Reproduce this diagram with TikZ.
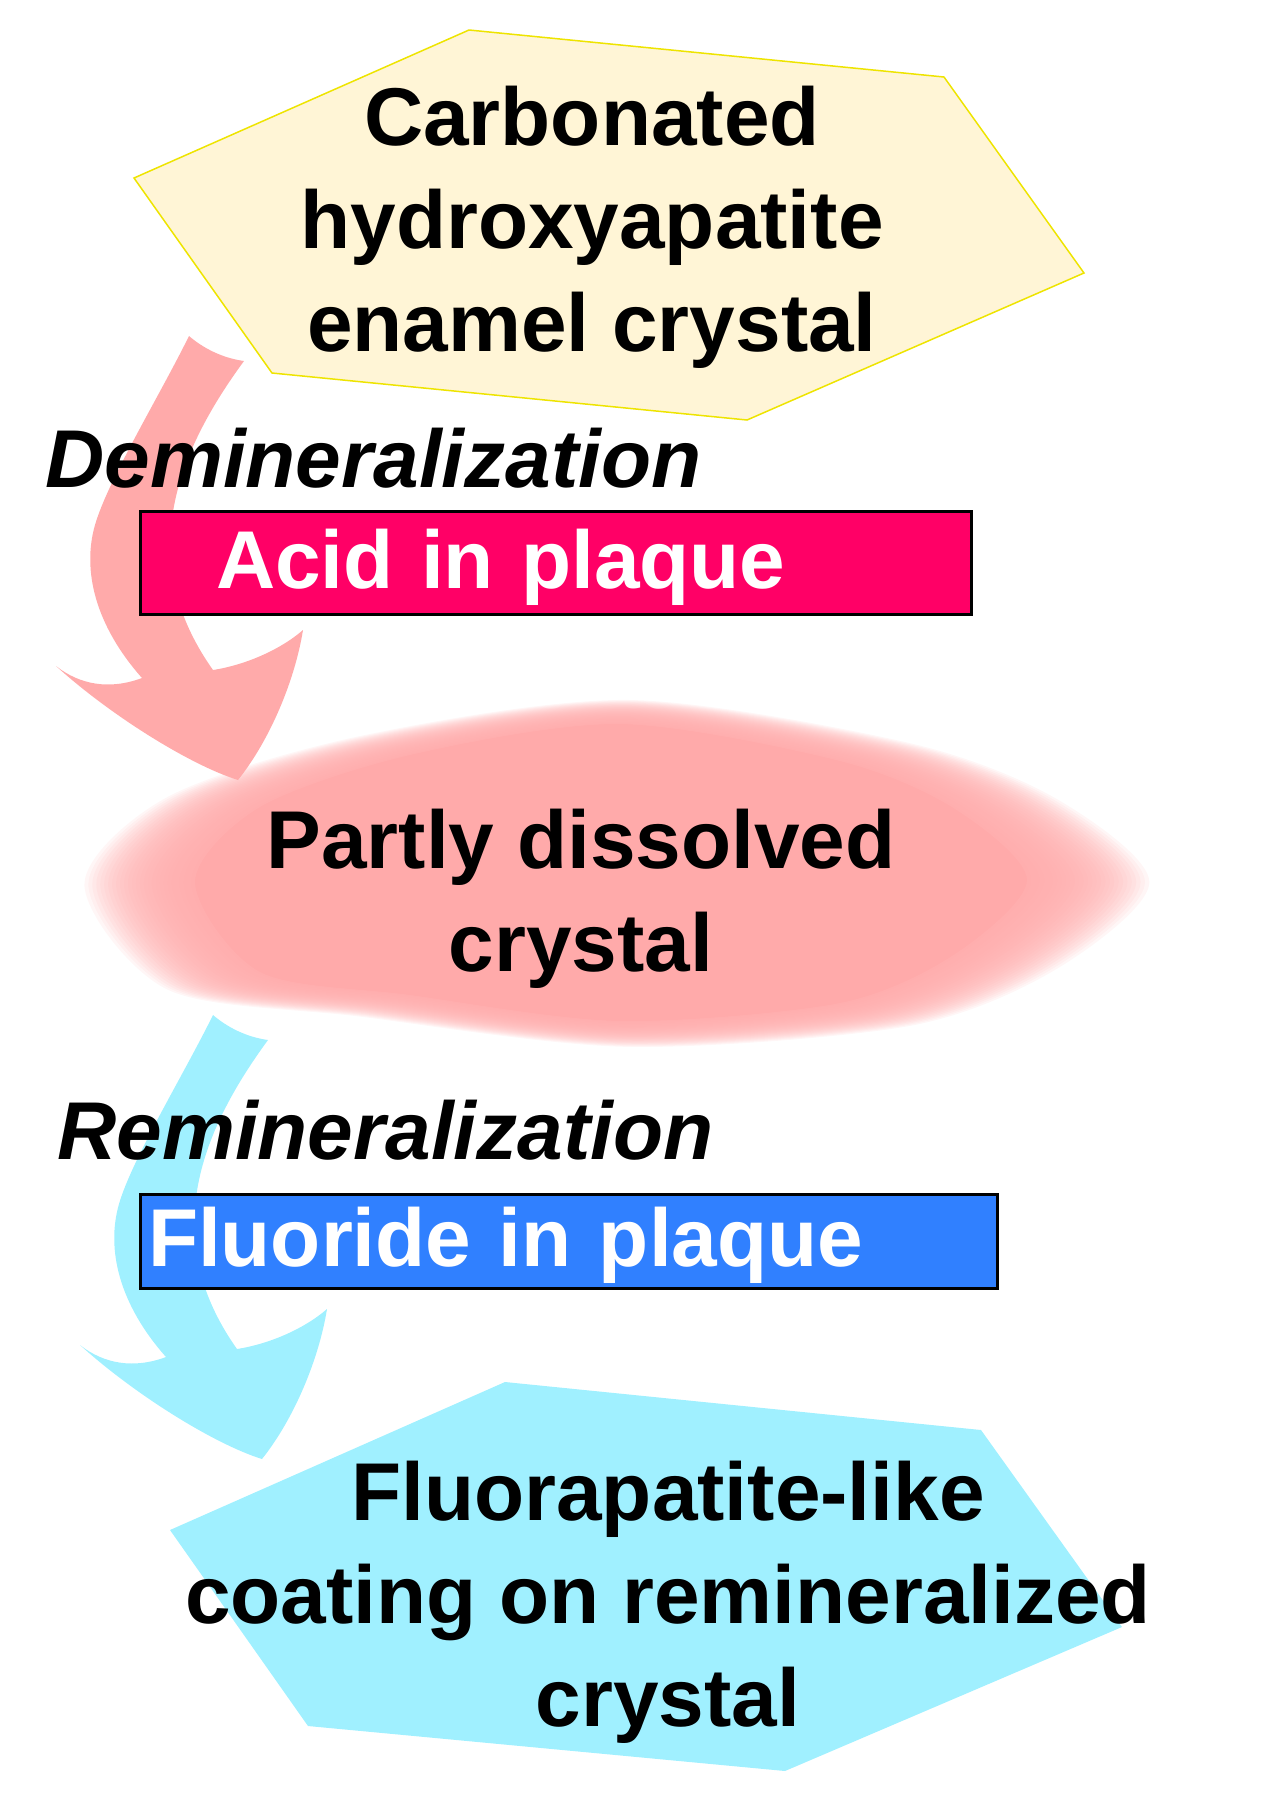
\documentclass[tikz,border=0pt]{standalone}
\usepackage{fontspec}
\setmainfont{Liberation Sans}
\usepackage{tikz}
\usetikzlibrary{calc}

\definecolor{hexyellow}{RGB}{255,245,214}
\definecolor{hexline}{RGB}{238,228,0}
\definecolor{blobpink}{RGB}{255,170,170}
\definecolor{remincyan}{RGB}{160,240,255}
\definecolor{acidred}{RGB}{255,0,102}
\definecolor{fluorblue}{RGB}{48,128,255}

\newcommand{\bentarrow}[1]{%
  \fill[#1] (189,336) .. controls (203,348) and (222,358) .. (244,361)
    .. controls (175,455) and (135,560) .. (213,670)
    .. controls (245,665) and (280,650) .. (303,630)
    .. controls (295,680) and (270,740) .. (238,780)
    .. controls (190,765) and (110,715) .. (56,666)
    .. controls (80,685) and (110,690) .. (142,678)
    .. controls (95,625) and (82,570) .. (95,525)
    .. controls (108,480) and (160,395) .. cycle;}
\newcommand{\blobshape}{plot[smooth cycle] coordinates {(-395,15) (-330,-60)
  (-180,-112) (30,-143) (250,-106) (365,-58) (437,13) (365,87) (250,136)
  (30,154) (-180,128) (-330,105)}}

\begin{document}
\begin{tikzpicture}[x=0.5pt,y=-0.5pt]
  \tikzstyle{crystaltext}=[align=center, inner sep=0pt, anchor=base,
    font=\bfseries\fontsize{41}{51.5}\selectfont]
  \tikzstyle{steplabel}=[inner sep=0pt, anchor=base west,
    font=\bfseries\itshape\fontsize{41}{51.5}\selectfont]
  \tikzstyle{plaquebox}=[draw=black, line width=1.5pt, text=white,
    inner sep=0pt, align=left, text height=30pt, text depth=4.5pt,
    font=\bfseries\fontsize{41}{51.5}\selectfont]

  \useasboundingbox (0,0) rectangle (1280,1811);

  \filldraw[fill=hexyellow, draw=hexline, line width=0.75pt]
    (469,30) -- (944,77) -- (1084,273) -- (747,420) -- (272,373) -- (134,178) -- cycle;

  \foreach \s in {1.28,1.27,...,1.0}{
    \pgfmathsetmacro{\ys}{1+0.6*(\s-1)}
    \begin{scope}[shift={(590,867)}, xscale=\s, yscale=\ys]
      \fill[blobpink, opacity=0.1] \blobshape;
    \end{scope}
  }
  \begin{scope}[shift={(590,867)}]
    \fill[blobpink] \blobshape;
  \end{scope}

  \bentarrow{blobpink}
  \begin{scope}[shift={(24,679)}]
    \bentarrow{remincyan}
  \end{scope}

  \fill[remincyan]
    (505,1382) -- (981,1430) -- (1122,1627) -- (785,1771) -- (308,1726) -- (170,1530) -- cycle;

  \node [crystaltext] (enamel) at (592,351) {Carbonated\\hydroxyapatite\\enamel crystal};
  \node [steplabel] (demin) at (45,487) {Demineralization};
  \node [plaquebox, fill=acidred, minimum width=415.5pt, minimum height=51.5pt,
    text width=339.5pt] (acid) at (555.5,562.5) {Acid in plaque};
  \node [crystaltext] (dissolved) at (581,971) {Partly dissolved\\crystal};
  \node [steplabel] (remin) at (57,1159) {Remineralization};
  \node [plaquebox, fill=fluorblue, minimum width=428.5pt, minimum height=47pt,
    text width=420.5pt] (fluoride) at (568.5,1241) {Fluoride in plaque};
  \node [crystaltext] (coating) at (668,1726) {Fluorapatite-like\\coating on remineralized\\crystal};
\end{tikzpicture}
\end{document}
